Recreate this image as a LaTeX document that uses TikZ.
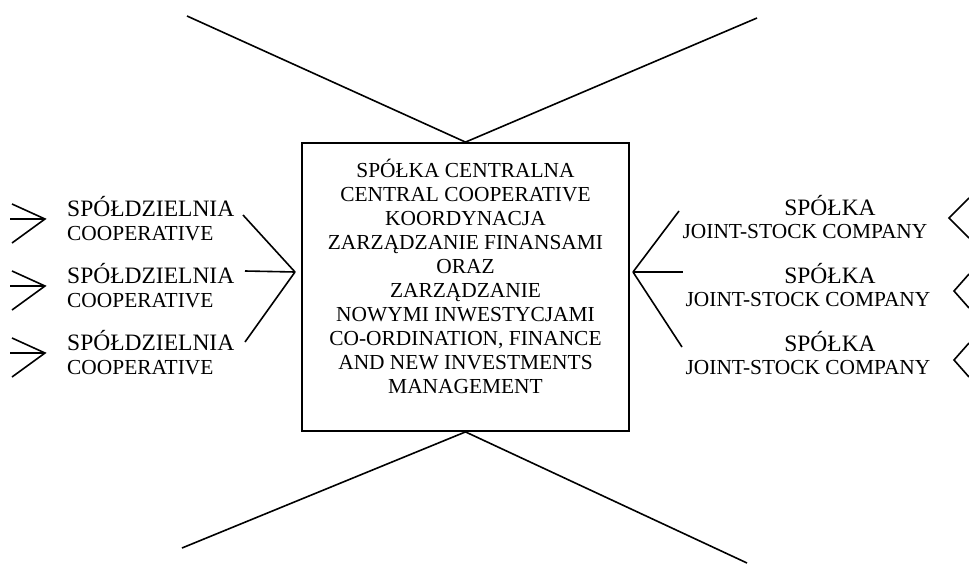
\documentclass[tikz,border=0pt]{standalone}
\usepackage{fontspec}
\setmainfont{Liberation Serif}
\begin{document}
\begin{tikzpicture}[x=1pt,y=-1pt,
  link/.style={line width=1.6pt},
  polname/.style={font=\fontsize{23.5}{26}\selectfont, inner sep=0pt},
  engname/.style={font=\fontsize{21.4}{24}\selectfont, inner sep=0pt},
  core/.style={draw, line width=1.8pt, minimum width=327pt, minimum height=288pt, inner sep=0pt},
  coretext/.style={align=center, font=\fontsize{21.4}{24}\selectfont, inner sep=0pt}]
\useasboundingbox (0,0) rectangle (969,565);

% central company box
\node[core] (central) at (465.5,287) {};
\node[coretext] (centraltext) at (465.5,276) {SPÓŁKA CENTRALNA\\CENTRAL COOPERATIVE\\KOORDYNACJA\\ZARZĄDZANIE FINANSAMI\\ORAZ\\ZARZĄDZANIE\\NOWYMI INWESTYCJAMI\\CO-ORDINATION, FINANCE\\AND NEW INVESTMENTS\\MANAGEMENT};

% diagonals above and below the box
\coordinate (tl) at (187,16);
\coordinate (tr) at (757,18);
\coordinate (bl) at (182,548);
\coordinate (br) at (747,563);
\draw[link] (tl) -- (central.north) -- (tr);
\draw[link] (bl) -- (central.south) -- (br);

% cooperatives on the left
\foreach \i/\y in {1/0,2/67,3/134}{
  \node[polname, anchor=base west] (coop\i) at (67,216+\y) {SPÓŁDZIELNIA};
  \node[engname, anchor=base west] (coopen\i) at (67,240+\y) {COOPERATIVE};
}
\coordinate (lj) at (295,272);
\coordinate (c1) at (243,215);
\coordinate (c2) at (245,271);
\coordinate (c3) at (245,342);
\draw[link] (c1) -- (lj);
\draw[link] (c2) -- (lj);
\draw[link] (c3) -- (lj);

% incoming arrows on the left
\foreach \i/\y in {1/0,2/67,3/134}{
  \coordinate (ina\i) at (12,204+\y);
  \coordinate (int\i) at (45,219+\y);
  \coordinate (inb\i) at (12,243+\y);
  \coordinate (ins\i) at (10,219+\y);
  \draw[link] (ina\i) -- (int\i) -- (inb\i);
  \draw[link] (ins\i) -- (int\i);
}

% joint-stock companies on the right
\foreach \i/\y/\x in {1/0/805,2/68/808,3/136/808}{
  \node[polname, anchor=base] (jsc\i) at (830,215+\y) {SPÓŁKA};
  \node[engname, anchor=base] (jscen\i) at (\x,238+\y) {JOINT-STOCK COMPANY};
}
\coordinate (rj) at (633,272);
\coordinate (s1) at (679,211);
\coordinate (s2) at (683,272);
\coordinate (s3) at (682,347);
\draw[link] (rj) -- (s1);
\draw[link] (rj) -- (s2);
\draw[link] (rj) -- (s3);

% outgoing chevrons on the right
\foreach \i/\ya/\t/\yt/\yb in {1/198/949/218/238,2/274/954/291/308,3/343/954/360/377}{
  \coordinate (oa\i) at (969,\ya);
  \coordinate (ot\i) at (\t,\yt);
  \coordinate (ob\i) at (969,\yb);
  \draw[link] (oa\i) -- (ot\i) -- (ob\i);
}
\end{tikzpicture}
\end{document}
